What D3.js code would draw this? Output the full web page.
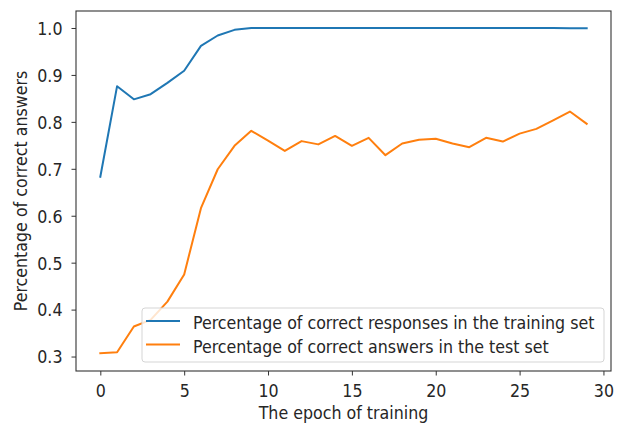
<!DOCTYPE html>
<html><head><meta charset="utf-8">
<script src="https://cdn.jsdelivr.net/npm/d3@7"></script>
<style>body{margin:0;background:#fff}svg{display:block}text{font-family:"DejaVu Sans",sans-serif;font-stretch:condensed;fill:#262626}</style>
</head><body>
<svg id="c" width="622" height="423"></svg>
<script>
const epochs = d3.range(0, 30);
const trainAcc = [0.683,0.876,0.848,0.859,0.883,0.909,0.962,0.984,0.996,1.0,1.0,1.0,1.0,1.0,1.0,1.0,1.0,1.0,1.0,1.0,1.0,1.0,1.0,1.0,1.0,1.0,1.0,1.0,0.9995,0.9995];
const testAcc = [0.307,0.309,0.364,0.378,0.417,0.475,0.616,0.699,0.749,0.781,0.760,0.738,0.759,0.752,0.770,0.749,0.766,0.729,0.754,0.762,0.764,0.754,0.746,0.766,0.758,0.775,0.785,0.803,0.822,0.796];
const xTicks = [0,5,10,15,20,25,30];
const yTicks = [0.3,0.4,0.5,0.6,0.7,0.8,0.9,1.0];
const seriesNames = ["Percentage of correct responses in the training set","Percentage of correct answers in the test set"];
const colors = ["#1f77b4","#ff7f0e"];

const svg = d3.select("#c");
const L=76, R=611, T=11, B=371;
const x = d3.scaleLinear().domain([-1.45, 30.45]).range([L, R]);
const y = d3.scaleLinear().domain([0.2692, 1.0362]).range([B, T]);

// pick a font size so the first legend entry is as wide as in the reference
const probe = svg.append("text").attr("font-size",20).text(seriesNames[0]);
const w20 = probe.node().getComputedTextLength();
probe.remove();
const FS = Math.min(18, 20 * 402 / w20);

const line = d3.line().x((d,i)=>x(epochs[i])).y(d=>y(d));
[trainAcc, testAcc].forEach((s,k)=>{
  svg.append("path").datum(s).attr("d", line).attr("fill","none")
    .attr("stroke", colors[k]).attr("stroke-width", 2).attr("stroke-linejoin","round").attr("stroke-linecap","square");
});

const xa = svg.append("g").attr("transform",`translate(0,${B})`)
  .call(d3.axisBottom(x).tickValues(xTicks).tickFormat(d3.format("d")).tickSize(4.5));
const ya = svg.append("g").attr("transform",`translate(${L},0)`)
  .call(d3.axisLeft(y).tickValues(yTicks).tickFormat(d3.format(".1f")).tickSize(4.5));
[xa,ya].forEach(g=>{
  g.select(".domain").remove();
  g.selectAll(".tick line").attr("stroke","#333").attr("stroke-width",1);
  g.selectAll(".tick text").attr("font-size",FS).attr("font-family",null).attr("fill","#262626");
});
xa.selectAll(".tick text").attr("y",26).attr("dy",null);
ya.selectAll(".tick text").attr("x",-13.5).attr("dy","0.36em");

svg.append("rect").attr("x",L).attr("y",T).attr("width",R-L).attr("height",B-T)
  .attr("fill","none").attr("stroke","#333").attr("stroke-width",1.1);

svg.append("text").attr("x",(L+R)/2).attr("y",419).attr("text-anchor","middle").attr("font-size",FS).text("The epoch of training");
svg.append("text").attr("transform",`translate(27,${(T+B)/2}) rotate(-90)`).attr("text-anchor","middle").attr("font-size",FS).text("Percentage of correct answers");

const lg = svg.append("g");
lg.append("rect").attr("x",142).attr("y",308).attr("width",462).attr("height",54).attr("rx",3)
  .attr("fill","rgba(255,255,255,0.8)").attr("stroke","#d5d5d5").attr("stroke-width",1);
seriesNames.forEach((n,k)=>{
  const yy = 321 + k*23.5;
  lg.append("line").attr("x1",146).attr("x2",180).attr("y1",yy).attr("y2",yy).attr("stroke",colors[k]).attr("stroke-width",2);
  lg.append("text").attr("x",193).attr("y",yy+8).attr("font-size",FS).text(n);
});
</script>
</body></html>
